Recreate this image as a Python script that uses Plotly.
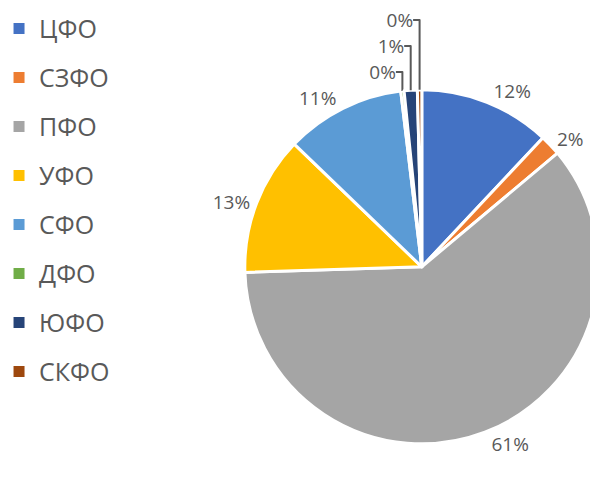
import plotly.graph_objects as go

labels = ["ЦФО", "СЗФО", "ПФО", "УФО", "СФО", "ДФО", "ЮФО", "СКФО"]
values = [12.0, 1.9, 60.6, 12.7, 10.9, 0.3, 1.2, 0.4]
colors = ["#4472C4", "#ED7D31", "#A5A5A5", "#FFC000", "#5B9BD5", "#70AD47", "#264478", "#9E480E"]

font_family = "Open Sans, Noto Sans, sans-serif"
text_color = "#595959"

fig = go.Figure()
fig.add_trace(go.Pie(
    labels=labels, values=values, sort=False, direction="clockwise",
    marker=dict(colors=colors, line=dict(color="white", width=3)),
    texttemplate="%{percent:.0%}", textposition="outside",
    textfont=dict(family=font_family, size=19, color=text_color),
    showlegend=False,
    domain=dict(x=[0.396, 0.988], y=[0.088, 0.829]),
))

# legend entries
for lab, col in zip(labels, colors):
    fig.add_trace(go.Scatter(
        x=[None], y=[None], mode="markers", name=lab, legendgroup=lab,
        marker=dict(symbol="square", size=11, color=col),
        showlegend=True,
    ))

fig.update_layout(
    width=598, height=478,
    margin=dict(l=0, r=0, t=0, b=0, autoexpand=False),
    paper_bgcolor="white", plot_bgcolor="white",
    xaxis=dict(visible=False), yaxis=dict(visible=False),
    legend=dict(
        x=-0.015, y=0.598, xanchor="left", yanchor="middle",
        font=dict(family=font_family, size=25, color=text_color),
        tracegroupgap=13.5, itemwidth=30,
        bgcolor="rgba(0,0,0,0)",
    ),
)

fig.write_html("out.html")
